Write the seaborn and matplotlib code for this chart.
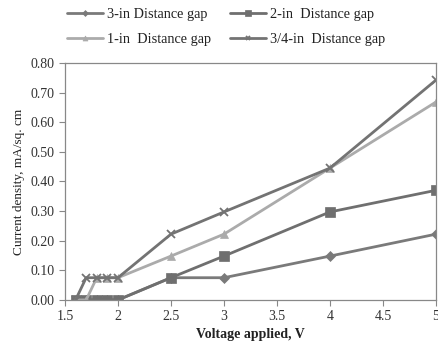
import matplotlib
matplotlib.use("Agg")
import matplotlib.pyplot as plt
import seaborn as sns
import pandas as pd
from matplotlib.ticker import FixedLocator, FuncFormatter

voltage = [1.6, 1.7, 1.8, 1.9, 2.0, 2.5, 3.0, 4.0, 5.0]
gap_3in = [0.0, 0.0, 0.0, 0.0, 0.0, 0.075, 0.075, 0.148, 0.222]
gap_2in = [0.0, 0.0, 0.0, 0.0, 0.0, 0.075, 0.148, 0.297, 0.370]
gap_1in = [0.0, 0.0, 0.075, 0.075, 0.075, 0.148, 0.222, 0.445, 0.668]
gap_34in = [0.0, 0.075, 0.075, 0.075, 0.075, 0.222, 0.297, 0.445, 0.742]
series_names = ["3-in Distance gap", "2-in  Distance gap", "1-in  Distance gap", "3/4-in  Distance gap"]

rows = []
for name, vals in zip(series_names, [gap_3in, gap_2in, gap_1in, gap_34in]):
    for v, c in zip(voltage, vals):
        rows.append({"Voltage": v, "Current": c, "Series": name})
df = pd.DataFrame(rows)

sns.set_theme(style="white")
plt.rcParams['font.family'] = ['Liberation Serif', 'DejaVu Serif']

fig = plt.figure(figsize=(4.39, 3.42), dpi=100)
ax = fig.add_axes([0.148, 0.123, 0.845, 0.693])

palette = {series_names[0]: "#7a7a7a", series_names[1]: "#6f6f6f",
           series_names[2]: "#ababab", series_names[3]: "#737373"}
markers = {series_names[0]: "D", series_names[1]: "s",
           series_names[2]: "^", series_names[3]: "x"}
sizes = {series_names[0]: 5, series_names[1]: 7, series_names[2]: 6, series_names[3]: 6}

for name in series_names:
    sub = df[df["Series"] == name]
    sns.lineplot(data=sub, x="Voltage", y="Current", ax=ax, color=palette[name],
                 marker=markers[name], markersize=sizes[name], linewidth=2.0,
                 markeredgecolor=palette[name], markeredgewidth=1.3 if name == series_names[3] else 0.5,
                 label=name, legend=False, sort=False)

ax.set_xlim(1.5, 5.0)
ax.set_ylim(0.0, 0.80)
ax.xaxis.set_major_locator(FixedLocator([1.5, 2, 2.5, 3, 3.5, 4, 4.5, 5]))
ax.yaxis.set_major_locator(FixedLocator([i / 10 for i in range(9)]))
ax.yaxis.set_major_formatter(FuncFormatter(lambda v, p: f"{v:.2f}"))
ax.xaxis.set_major_formatter(FuncFormatter(lambda v, p: f"{v:g}"))
ax.tick_params(axis='both', labelsize=10, colors="#333333", direction='out', length=4,
               width=0.8, bottom=True, left=True)
ax.tick_params(axis='both', color="#888888")
for s in ax.spines.values():
    s.set_color("#888888")
    s.set_linewidth(0.9)

ax.set_xlabel("Voltage applied, V", fontsize=10, fontweight='bold', color="#222222", labelpad=3)
ax.set_ylabel("Current density, mA/sq. cm", fontsize=9.5, color="#222222", labelpad=4)

handles, labels = ax.get_legend_handles_labels()
order = [0, 2, 1, 3]
fig.legend([handles[i] for i in order], [labels[i] for i in order], loc='upper center',
           bbox_to_anchor=(0.515, 1.015), ncol=2, frameon=False, fontsize=10.3,
           handlelength=2.5, columnspacing=1.3, labelspacing=0.85, handletextpad=0.3,
           markerscale=0.6, labelcolor="#222222")

fig.savefig("out.png", dpi=100)
